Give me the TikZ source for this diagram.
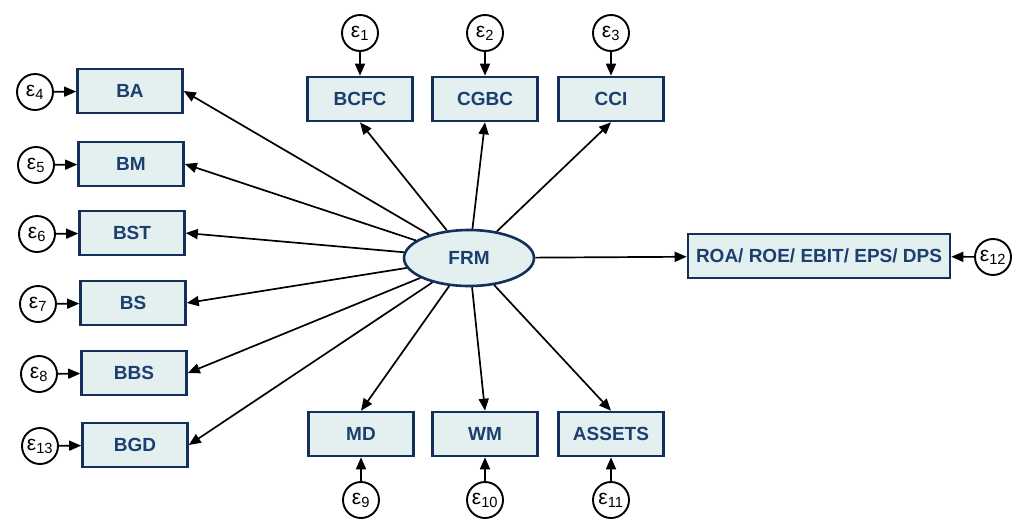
\documentclass[tikz,border=0pt]{standalone}
\usepackage{fontspec}
\setmainfont{Liberation Sans}
\usepackage{tikz}
\usetikzlibrary{shapes, calc, arrows.meta}
\definecolor{boxblue}{HTML}{12305A}
\definecolor{boxfill}{HTML}{E4EFF0}
\definecolor{labelblue}{HTML}{1B3F6E}

\begin{document}
\begin{tikzpicture}[x=1pt,y=-1pt,
var/.style={draw=boxblue,line width=2.6pt,fill=boxfill,text=labelblue,
  font=\fontsize{19}{21}\selectfont\bfseries,minimum width=105pt,minimum height=44pt,inner sep=2pt},
latent/.style={ellipse,draw=boxblue,line width=2.6pt,fill=boxfill,text=labelblue,
  font=\fontsize{19}{21}\selectfont\bfseries,minimum width=130pt,minimum height=56pt,inner sep=0pt},
err/.style={circle,draw,line width=1.9pt,fill=white,minimum size=36pt,inner sep=0pt,
  font=\fontsize{21}{22}\selectfont},
path/.style={-{Triangle[length=12pt,width=10pt]},line width=1.7pt}]
\useasboundingbox (0,0) rectangle (1019,520);
% the latent factor
\node [latent] (frm) at (469,258) {FRM};
% left column: box name / label / x / y / error index
\foreach \name/\lbl/\x/\y/\e in {ba/BA/130/91/4, bm/BM/131/164/5, bst/BST/132/233/6,
  bs/BS/133/303/7, bbs/BBS/134/373/8, bgd/BGD/135/445/13}
{
\node [var] (\name) at (\x,\y) {\lbl};
\node [err] (e\e) at (\x-95,\y+1) {ε\textsubscript{\e}};
\draw [path] (frm) -- (\name.east);
\draw [path] (e\e) -- (\name);
}
% top row
\foreach \name/\lbl/\x/\e in {bcfc/BCFC/360/1, cgbc/CGBC/485/2, cci/CCI/611/3}
{
\node [var] (\name) at (\x,99) {\lbl};
\node [err] (e\e) at (\x,33) {ε\textsubscript{\e}};
\draw [path] (frm) -- (\name.south);
\draw [path] (e\e) -- (\name);
}
% bottom row
\foreach \name/\lbl/\x/\e in {md/MD/361/9, wm/WM/485/10, assets/ASSETS/611/11}
{
\node [var] (\name) at (\x,434) {\lbl};
\node [err] (e\e) at (\x,500) {ε\textsubscript{\e}};
\draw [path] (frm) -- (\name.north);
\draw [path] (e\e) -- (\name);
}
% outcome
\node [var, minimum width=262pt] (perf) at (819,256) {ROA/ ROE/ EBIT/ EPS/ DPS};
\node [err] (e12) at (993,257) {ε\textsubscript{12}};
\draw [path] (frm) -- (perf);
\draw [path] (e12) -- (perf);
\end{tikzpicture}
\end{document}
